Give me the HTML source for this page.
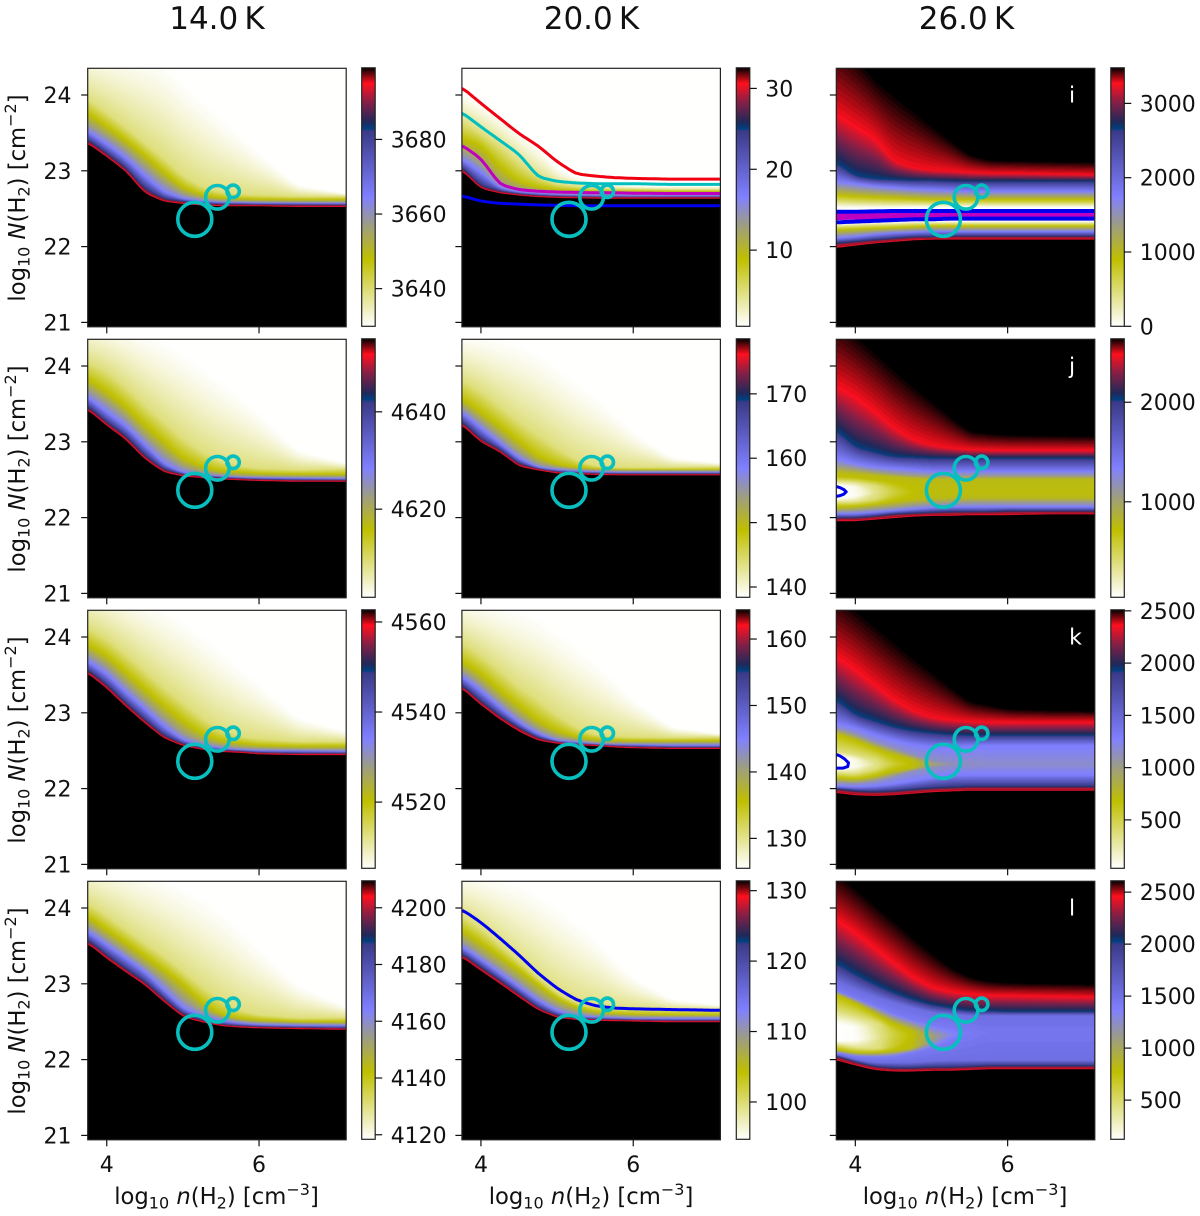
<!DOCTYPE html>
<html lang="en">
<head>
<meta charset="utf-8">
<title>Model grids by temperature</title>
<style>
html,body{margin:0;padding:0;background:#fff;}
svg{display:block;font-family:"DejaVu Sans","Liberation Sans",sans-serif;fill:#111;}
</style>
</head>
<body>
<svg id="chart" width="1200" height="1216" viewBox="0 0 1200 1216">
  <rect x="0" y="0" width="1200" height="1216" fill="#ffffff"/>
  <text x="217" y="29" font-size="31" text-anchor="middle">14.0&#8201;K</text>
  <text x="591.5" y="29" font-size="31" text-anchor="middle">20.0&#8201;K</text>
  <text x="966.5" y="29" font-size="31" text-anchor="middle">26.0&#8201;K</text>

  <text transform="translate(25,198) rotate(-90)" text-anchor="middle" font-size="22.7">log<tspan font-size="16" dy="4.5">10</tspan><tspan dy="-4.5"> </tspan><tspan font-style="italic">N</tspan>(H<tspan font-size="16" dy="4.5">2</tspan><tspan dy="-4.5">) [cm</tspan><tspan font-size="16" dy="-9">−2</tspan><tspan dy="9">]</tspan></text>
  <text transform="translate(25,469) rotate(-90)" text-anchor="middle" font-size="22.7">log<tspan font-size="16" dy="4.5">10</tspan><tspan dy="-4.5"> </tspan><tspan font-style="italic">N</tspan>(H<tspan font-size="16" dy="4.5">2</tspan><tspan dy="-4.5">) [cm</tspan><tspan font-size="16" dy="-9">−2</tspan><tspan dy="9">]</tspan></text>
  <text transform="translate(25,740) rotate(-90)" text-anchor="middle" font-size="22.7">log<tspan font-size="16" dy="4.5">10</tspan><tspan dy="-4.5"> </tspan><tspan font-style="italic">N</tspan>(H<tspan font-size="16" dy="4.5">2</tspan><tspan dy="-4.5">) [cm</tspan><tspan font-size="16" dy="-9">−2</tspan><tspan dy="9">]</tspan></text>
  <text transform="translate(25,1011) rotate(-90)" text-anchor="middle" font-size="22.7">log<tspan font-size="16" dy="4.5">10</tspan><tspan dy="-4.5"> </tspan><tspan font-style="italic">N</tspan>(H<tspan font-size="16" dy="4.5">2</tspan><tspan dy="-4.5">) [cm</tspan><tspan font-size="16" dy="-9">−2</tspan><tspan dy="9">]</tspan></text>

  <text x="216.5" y="1204" text-anchor="middle" font-size="22.7">log<tspan font-size="16" dy="4.5">10</tspan><tspan dy="-4.5"> </tspan><tspan font-style="italic">n</tspan>(H<tspan font-size="16" dy="4.5">2</tspan><tspan dy="-4.5">) [cm</tspan><tspan font-size="16" dy="-9">−3</tspan><tspan dy="9">]</tspan></text>
  <text x="591" y="1204" text-anchor="middle" font-size="22.7">log<tspan font-size="16" dy="4.5">10</tspan><tspan dy="-4.5"> </tspan><tspan font-style="italic">n</tspan>(H<tspan font-size="16" dy="4.5">2</tspan><tspan dy="-4.5">) [cm</tspan><tspan font-size="16" dy="-9">−3</tspan><tspan dy="9">]</tspan></text>
  <text x="965" y="1204" text-anchor="middle" font-size="22.7">log<tspan font-size="16" dy="4.5">10</tspan><tspan dy="-4.5"> </tspan><tspan font-style="italic">n</tspan>(H<tspan font-size="16" dy="4.5">2</tspan><tspan dy="-4.5">) [cm</tspan><tspan font-size="16" dy="-9">−3</tspan><tspan dy="9">]</tspan></text>
</svg>
<script>
/* Shared axis data */
const densityKnots=[3.75,4,4.25,4.5,4.75,5,5.25,5.5,5.75,6,6.5,7.15];
const xTickValues=[4,6];
const yTickValues=[21,22,23,24];
const markerDensity=[5.156,5.453,5.66];
const markerColumn=[22.36,22.65,22.73];
const colormapStops=[0,.13,.26,.38,.5,.62,.755,.765,.79,.87,.94,1];
const colormapColors=['#ffffff','#dfdf80','#bfbf00','#a0a078','#8080ff','#5f5fc8','#3a3a88','#004080','#20285a','#8a1f45','#ff0f1e','#000000'];

/* Row 1, 14 K */
const r1c1Range=[3629.9,3699.2];
const r1c1CbTicks=[3640,3660,3680];
const r1c1Levels=[3699.2,3682.6,3664.6,3656.2,3647.9,3638.9,3629.9];
const r1c1Isolines=[
[23.37,23.19,23.00,22.71,22.60,22.57,22.55,22.54,22.54,22.54,22.53,22.53],
[23.41,23.23,23.04,22.76,22.63,22.595,22.57,22.56,22.56,22.555,22.55,22.55],
[23.52,23.35,23.17,22.93,22.72,22.63,22.60,22.585,22.58,22.575,22.575,22.57],
[23.62,23.46,23.28,23.06,22.85,22.69,22.63,22.605,22.60,22.595,22.59,22.59],
[23.76,23.58,23.40,23.20,22.98,22.78,22.68,22.64,22.63,22.62,22.62,22.62],
[23.95,23.77,23.58,23.37,23.17,22.94,22.79,22.72,22.69,22.68,22.66,22.66],
[24.65,24.62,24.60,24.55,24.45,24.20,23.97,23.73,23.50,23.26,22.82,22.70]];

/* Row 1, 20 K */
const r1c2Range=[0.58,32.55];
const r1c2CbTicks=[10,20,30];
const r1c2Levels=[32.55,24.88,16.57,12.73,8.89,4.74,0.58];
const r1c2Isolines=[
[23.01,22.77,22.71,22.68,22.66,22.65,22.645,22.64,22.64,22.64,22.64,22.64],
[23.05,22.80,22.73,22.695,22.675,22.665,22.66,22.655,22.655,22.655,22.655,22.655],
[23.15,22.98,22.77,22.72,22.70,22.685,22.68,22.675,22.675,22.67,22.67,22.67],
[23.27,23.10,22.82,22.76,22.73,22.71,22.705,22.70,22.70,22.70,22.70,22.70],
[23.42,23.33,23.05,22.85,22.78,22.75,22.74,22.73,22.73,22.73,22.73,22.73],
[23.65,23.50,23.33,23.10,22.92,22.82,22.79,22.77,22.76,22.76,22.75,22.75],
[24.05,23.92,23.75,23.55,23.35,23.05,22.92,22.85,22.82,22.80,22.80,22.80]];
const r1c2RedContour=[24.10,23.89,23.69,23.49,23.33,23.12,22.96,22.93,22.91,22.90,22.89,22.89];
const r1c2CyanContour=[23.77,23.58,23.40,23.22,22.92,22.86,22.84,22.83,22.83,22.83,22.82,22.82];
const r1c2MagentaContour=[23.34,23.16,22.82,22.75,22.73,22.72,22.715,22.71,22.71,22.705,22.70,22.70];
const r1c2BlueContour=[22.67,22.60,22.57,22.56,22.55,22.545,22.54,22.54,22.54,22.54,22.54,22.54];

/* Row 1, 26 K */
const r1c3Range=[0,3479];
const r1c3CbTicks=[0,1000,2000,3000];
const r1c3Levels=[3479,2644,1740,905,0,0,905,1740,2644,3270,3479];
const r1c3Isolines=[
[21.99,22.02,22.05,22.07,22.09,22.10,22.10,22.10,22.10,22.10,22.10,22.10],
[22.05,22.07,22.09,22.11,22.13,22.13,22.14,22.14,22.14,22.14,22.14,22.14],
[22.11,22.13,22.16,22.18,22.19,22.20,22.20,22.20,22.20,22.20,22.20,22.20],
[22.22,22.23,22.24,22.25,22.26,22.27,22.27,22.27,22.27,22.27,22.27,22.27],
[22.31,22.32,22.33,22.33,22.34,22.34,22.34,22.34,22.34,22.34,22.34,22.34],
[22.50,22.50,22.50,22.50,22.51,22.51,22.51,22.51,22.51,22.51,22.51,22.51],
[22.68,22.66,22.65,22.64,22.63,22.62,22.62,22.62,22.62,22.62,22.62,22.62],
[22.86,22.83,22.80,22.78,22.76,22.75,22.74,22.73,22.73,22.73,22.73,22.73],
[23.10,22.93,22.89,22.88,22.87,22.87,22.86,22.86,22.86,22.86,22.86,22.86],
[23.76,23.60,23.45,23.14,23.05,23.01,23.00,22.98,22.97,22.97,22.96,22.95],
[24.80,24.55,24.25,24.05,23.84,23.63,23.42,23.22,23.15,23.14,23.13,23.12]];
const r1c3BlueLower=[22.32,22.33,22.34,22.35,22.36,22.36,22.37,22.37,22.37,22.37,22.37,22.37];
const r1c3MagentaLower=[22.38,22.385,22.39,22.395,22.40,22.40,22.405,22.41,22.41,22.41,22.41,22.41];
const r1c3MagentaUpper=[22.42,22.42,22.42,22.42,22.425,22.43,22.43,22.43,22.43,22.43,22.43,22.43];
const r1c3BlueUpper=[22.46,22.46,22.465,22.47,22.47,22.47,22.47,22.47,22.47,22.47,22.47,22.47];

/* Row 2, 14 K */
const r2c1Range=[4601.9,4655];
const r2c1CbTicks=[4620,4640];
const r2c1Levels=[4655,4642.3,4628.5,4622.1,4615.7,4608.8,4601.9];
const r2c1Isolines=[
[23.43,23.22,23.035,22.78,22.605,22.55,22.53,22.51,22.50,22.49,22.48,22.48],
[23.47,23.26,23.08,22.82,22.635,22.57,22.55,22.53,22.515,22.505,22.495,22.495],
[23.59,23.39,23.21,22.96,22.71,22.59,22.56,22.54,22.53,22.525,22.52,22.51],
[23.70,23.53,23.33,23.07,22.85,22.67,22.60,22.57,22.55,22.545,22.54,22.54],
[23.83,23.66,23.46,23.22,23.00,22.78,22.67,22.61,22.60,22.58,22.57,22.57],
[24.06,23.93,23.73,23.49,23.27,23.05,22.87,22.74,22.68,22.65,22.63,22.64],
[24.65,24.62,24.55,24.45,24.35,24.20,24.02,23.83,23.63,23.40,22.90,22.72]];

/* Row 2, 20 K */
const r2c2Range=[138.4,178.55];
const r2c2CbTicks=[140,150,160,170];
const r2c2Levels=[178.55,168.9,158.5,153.7,148.8,143.6,138.4];
const r2c2Isolines=[
[23.23,23.00,22.87,22.68,22.63,22.59,22.58,22.57,22.565,22.565,22.565,22.565],
[23.27,23.04,22.90,22.71,22.645,22.605,22.595,22.585,22.58,22.58,22.58,22.58],
[23.39,23.18,22.98,22.78,22.66,22.63,22.61,22.60,22.595,22.595,22.595,22.595],
[23.47,23.27,23.07,22.86,22.71,22.66,22.64,22.63,22.62,22.62,22.62,22.62],
[23.57,23.39,23.20,23.00,22.80,22.70,22.66,22.64,22.635,22.63,22.63,22.63],
[23.82,23.67,23.47,23.27,23.10,22.92,22.76,22.68,22.66,22.66,22.66,22.67],
[24.45,24.42,24.38,24.32,24.20,24.02,23.82,23.63,23.40,23.15,22.80,22.72]];

/* Row 2, 26 K */
const r2c3Range=[41,2637];
const r2c3CbTicks=[1000,2000];
const r2c3Levels=[2637,2014,1339,1027,768,716,378,41,41,378,716,768,1027,1339,2014,2481,2637];
const r2c3ValleyFloor=[41,93,353,560,716,742,742,742,742,742,742,742];
const r2c3Isolines=[
[21.96,21.96,21.98,22.00,22.02,22.03,22.03,22.04,22.04,22.04,22.05,22.05],
[22.00,22.00,22.02,22.05,22.06,22.07,22.08,22.08,22.08,22.09,22.09,22.09],
[22.05,22.05,22.07,22.09,22.11,22.13,22.14,22.14,22.14,22.14,22.14,22.14],
[22.09,22.10,22.12,22.14,22.17,22.19,22.20,22.21,22.21,22.21,22.21,22.21],
[22.13,22.14,22.17,22.20,22.23,22.25,22.26,22.26,22.26,22.26,22.26,22.26],
[22.15,22.15,22.17,22.21,22.26,22.33,22.34,22.34,22.34,22.34,22.34,22.34],
[22.20,22.20,22.25,22.31,22.34,22.34,22.34,22.34,22.34,22.34,22.34,22.34],
[22.26,22.28,22.33,22.34,22.34,22.34,22.34,22.34,22.34,22.34,22.34,22.34],
[22.42,22.40,22.35,22.34,22.34,22.34,22.34,22.34,22.34,22.34,22.34,22.34],
[22.48,22.47,22.42,22.37,22.34,22.34,22.34,22.34,22.34,22.34,22.34,22.34],
[22.54,22.53,22.50,22.47,22.42,22.35,22.34,22.34,22.34,22.34,22.34,22.34],
[22.60,22.58,22.56,22.54,22.52,22.51,22.51,22.51,22.51,22.51,22.51,22.51],
[22.67,22.64,22.60,22.57,22.55,22.54,22.54,22.54,22.54,22.54,22.54,22.54],
[22.78,22.71,22.67,22.65,22.63,22.61,22.61,22.61,22.61,22.61,22.61,22.61],
[23.15,22.93,22.86,22.80,22.79,22.78,22.78,22.78,22.78,22.78,22.78,22.78],
[23.75,23.61,23.42,23.20,23.04,22.96,22.92,22.90,22.89,22.89,22.89,22.89],
[24.66,24.45,24.23,24.00,23.78,23.57,23.35,23.15,23.12,23.10,23.09,23.08]];
const r2c3LoopDensity=[3.75,3.80,3.85,3.88,3.85,3.80,3.75];
const r2c3LoopColumn=[22.41,22.395,22.37,22.34,22.31,22.29,22.28];

/* Row 3, 14 K */
const r3c1Range=[4505.3,4562.7];
const r3c1CbTicks=[4520,4540,4560];
const r3c1Levels=[4562.7,4548.9,4534,4527.1,4520.2,4512.8,4505.3];
const r3c1Isolines=[
[23.53,23.33,23.09,22.87,22.67,22.57,22.52,22.49,22.48,22.46,22.45,22.45],
[23.57,23.37,23.13,22.91,22.70,22.59,22.535,22.505,22.495,22.475,22.465,22.465],
[23.68,23.51,23.27,23.05,22.82,22.64,22.57,22.53,22.51,22.50,22.50,22.49],
[23.79,23.62,23.39,23.16,22.94,22.73,22.62,22.57,22.54,22.53,22.52,22.52],
[23.90,23.75,23.53,23.31,23.09,22.89,22.72,22.63,22.60,22.57,22.56,22.56],
[24.13,23.98,23.78,23.56,23.34,23.14,22.94,22.77,22.69,22.66,22.62,22.62],
[24.75,24.70,24.62,24.52,24.40,24.25,24.05,23.85,23.62,23.40,22.95,22.76]];

/* Row 3, 20 K */
const r3c2Range=[125.5,164.4];
const r3c2CbTicks=[130,140,150,160];
const r3c2Levels=[164.4,155.1,145,140.3,135.6,130.6,125.5];
const r3c2Isolines=[
[23.33,23.11,22.92,22.76,22.64,22.60,22.58,22.57,22.55,22.54,22.53,22.53],
[23.37,23.15,22.96,22.80,22.67,22.615,22.59,22.58,22.565,22.555,22.545,22.545],
[23.48,23.29,23.07,22.87,22.72,22.63,22.61,22.59,22.58,22.58,22.57,22.57],
[23.57,23.38,23.16,22.96,22.79,22.68,22.64,22.61,22.60,22.60,22.60,22.60],
[23.68,23.51,23.29,23.09,22.89,22.76,22.68,22.65,22.64,22.63,22.63,22.63],
[23.93,23.76,23.56,23.34,23.17,22.97,22.81,22.71,22.69,22.68,22.67,22.68],
[24.55,24.50,24.45,24.38,24.28,24.10,23.90,23.70,23.45,23.20,22.82,22.72]];

/* Row 3, 26 K */
const r3c3Range=[37,2510];
const r3c3CbTicks=[500,1000,1500,2000,2500];
const r3c3Levels=[2510,1916,1274,1125,705,358,37,37,358,705,1125,1274,1916,2362,2510];
const r3c3ValleyFloor=[37,111,334,556,705,927,1076,1125,1150,1150,1150,1150];
const r3c3Isolines=[
[21.95,21.92,21.91,21.92,21.94,21.96,21.97,21.98,21.98,21.98,21.98,21.98],
[22.00,21.97,21.96,21.97,21.99,22.01,22.02,22.03,22.03,22.03,22.03,22.03],
[22.03,22.02,22.03,22.06,22.10,22.14,22.18,22.18,22.18,22.18,22.18,22.18],
[22.07,22.06,22.09,22.15,22.23,22.27,22.31,22.32,22.32,22.32,22.32,22.32],
[22.14,22.12,22.16,22.23,22.27,22.32,22.32,22.32,22.32,22.32,22.32,22.32],
[22.21,22.19,22.26,22.32,22.32,22.32,22.32,22.32,22.32,22.32,22.32,22.32],
[22.28,22.28,22.32,22.32,22.32,22.32,22.32,22.32,22.32,22.32,22.32,22.32],
[22.42,22.38,22.33,22.32,22.32,22.32,22.32,22.32,22.32,22.32,22.32,22.32],
[22.49,22.45,22.38,22.33,22.32,22.32,22.32,22.32,22.32,22.32,22.32,22.32],
[22.73,22.64,22.54,22.45,22.38,22.32,22.32,22.32,22.32,22.32,22.32,22.32],
[22.80,22.73,22.62,22.54,22.45,22.38,22.33,22.32,22.32,22.32,22.32,22.32],
[22.86,22.80,22.71,22.64,22.58,22.55,22.55,22.56,22.57,22.57,22.57,22.57],
[23.17,22.97,22.89,22.81,22.76,22.73,22.71,22.70,22.70,22.70,22.70,22.70],
[23.76,23.59,23.39,23.19,23.04,22.95,22.91,22.89,22.88,22.88,22.88,22.88],
[24.60,24.40,24.19,23.98,23.77,23.57,23.36,23.16,23.11,23.06,23.04,23.03]];
const r3c3LoopDensity=[3.75,3.80,3.86,3.91,3.90,3.84,3.75];
const r3c3LoopColumn=[22.45,22.43,22.39,22.34,22.29,22.27,22.27];

/* Row 4, 14 K */
const r4c1Range=[4118.4,4209.5];
const r4c1CbTicks=[4120,4140,4160,4180,4200];
const r4c1Levels=[4209.5,4187.6,4164,4153,4142.1,4130.2,4118.4];
const r4c1Isolines=[
[23.54,23.34,23.16,22.99,22.77,22.57,22.50,22.45,22.43,22.42,22.41,22.40],
[23.58,23.38,23.20,23.03,22.81,22.60,22.52,22.465,22.445,22.435,22.425,22.415],
[23.69,23.51,23.34,23.16,22.92,22.68,22.57,22.51,22.48,22.46,22.45,22.45],
[23.78,23.60,23.42,23.24,23.05,22.81,22.64,22.56,22.51,22.49,22.48,22.47],
[23.89,23.71,23.54,23.36,23.18,22.99,22.75,22.59,22.54,22.52,22.50,22.50],
[24.07,23.90,23.72,23.54,23.37,23.17,22.97,22.79,22.65,22.59,22.55,22.55],
[24.70,24.65,24.60,24.52,24.42,24.30,24.17,24.00,23.75,23.50,23.00,22.70]];

/* Row 4, 20 K */
const r4c2Range=[94.7,131.4];
const r4c2CbTicks=[100,110,120,130];
const r4c2Levels=[131.4,122.6,113,108.6,104.2,99.5,94.7];
const r4c2Isolines=[
[23.36,23.18,23.01,22.83,22.66,22.56,22.53,22.52,22.515,22.51,22.50,22.50],
[23.40,23.22,23.05,22.87,22.69,22.58,22.545,22.535,22.53,22.525,22.515,22.515],
[23.49,23.32,23.14,22.96,22.78,22.64,22.57,22.56,22.55,22.54,22.54,22.54],
[23.58,23.40,23.23,23.05,22.86,22.71,22.63,22.59,22.58,22.57,22.57,22.57],
[23.71,23.54,23.36,23.18,22.99,22.81,22.69,22.63,22.61,22.60,22.59,22.59],
[23.90,23.73,23.52,23.30,23.08,22.88,22.75,22.69,22.67,22.67,22.66,22.66],
[24.50,24.48,24.42,24.35,24.22,24.05,23.85,23.63,23.35,23.10,22.80,22.72]];
const r4c2BlueContour=[23.98,23.81,23.60,23.38,23.14,22.94,22.79,22.71,22.68,22.67,22.66,22.65];

/* Row 4, 26 K */
const r4c3Range=[123,2609];
const r4c3CbTicks=[500,1000,1500,2000,2500];
const r4c3Levels=[2609,2012,1515,1416,794,446,123,123,446,794,1416,1515,2012,2460,2609];
const r4c3ValleyFloor=[123,148,371,620,794,1068,1316,1416,1441,1441,1441,1441];
const r4c3Isolines=[
[22.00,21.93,21.87,21.85,21.85,21.86,21.86,21.87,21.88,21.88,21.88,21.88],
[22.05,21.97,21.91,21.89,21.89,21.90,21.90,21.91,21.92,21.92,21.92,21.92],
[22.07,22.00,21.96,21.96,21.96,21.98,21.99,21.99,21.99,21.99,21.99,21.99],
[22.09,22.04,22.03,22.04,22.09,22.15,22.24,22.35,22.36,22.36,22.36,22.36],
[22.13,22.09,22.09,22.11,22.15,22.24,22.33,22.35,22.36,22.36,22.36,22.36],
[22.20,22.15,22.14,22.18,22.33,22.32,22.33,22.35,22.36,22.36,22.36,22.36],
[22.25,22.26,22.27,22.34,22.33,22.32,22.33,22.35,22.36,22.36,22.36,22.36],
[22.46,22.42,22.40,22.34,22.33,22.32,22.33,22.35,22.36,22.36,22.36,22.36],
[22.64,22.57,22.50,22.37,22.33,22.32,22.33,22.35,22.36,22.36,22.36,22.36],
[22.86,22.75,22.61,22.48,22.38,22.33,22.33,22.35,22.36,22.36,22.36,22.36],
[22.92,22.81,22.72,22.61,22.53,22.46,22.42,22.36,22.36,22.36,22.36,22.36],
[23.03,22.92,22.83,22.75,22.68,22.62,22.60,22.58,22.58,22.58,22.58,22.58],
[23.27,23.12,22.99,22.88,22.79,22.72,22.68,22.64,22.64,22.63,22.63,22.63],
[23.86,23.69,23.49,23.29,23.10,22.96,22.90,22.87,22.85,22.85,22.84,22.83],
[24.50,24.29,24.07,23.86,23.64,23.43,23.23,23.10,23.04,23.02,23.01,23.00]];

const panelLetters=['','','i','','','j','','','k','','','l'];
const panelRanges=[r1c1Range,r1c2Range,r1c3Range,r2c1Range,r2c2Range,r2c3Range,r3c1Range,r3c2Range,r3c3Range,r4c1Range,r4c2Range,r4c3Range];
const panelCbTicks=[r1c1CbTicks,r1c2CbTicks,r1c3CbTicks,r2c1CbTicks,r2c2CbTicks,r2c3CbTicks,r3c1CbTicks,r3c2CbTicks,r3c3CbTicks,r4c1CbTicks,r4c2CbTicks,r4c3CbTicks];
const panelLevels=[r1c1Levels,r1c2Levels,r1c3Levels,r2c1Levels,r2c2Levels,r2c3Levels,r3c1Levels,r3c2Levels,r3c3Levels,r4c1Levels,r4c2Levels,r4c3Levels];
const panelIsolines=[r1c1Isolines,r1c2Isolines,r1c3Isolines,r2c1Isolines,r2c2Isolines,r2c3Isolines,r3c1Isolines,r3c2Isolines,r3c3Isolines,r4c1Isolines,r4c2Isolines,r4c3Isolines];
const panelFloors=[null,null,null,null,null,r2c3ValleyFloor,null,null,r3c3ValleyFloor,null,null,r4c3ValleyFloor];

const RED='#f00010',THIN='#d8102c',BLUE='#0000f0',MAG='#c000c0',CYAN='#00bfbf';
const panelContours=[
[[THIN,1.2,r1c1Isolines[0]]],
[[THIN,1.2,r1c2Isolines[0]],[BLUE,3,r1c2BlueContour],[MAG,3,r1c2MagentaContour],[CYAN,3,r1c2CyanContour],[RED,3,r1c2RedContour]],
[[THIN,1.2,r1c3Isolines[0]],[MAG,4.5,r1c3MagentaLower],[MAG,4.5,r1c3MagentaUpper],[BLUE,4,r1c3BlueLower],[BLUE,4,r1c3BlueUpper]],
[[THIN,1.2,r2c1Isolines[0]]],
[[THIN,1.2,r2c2Isolines[0]]],
[[THIN,1.2,r2c3Isolines[0]]],
[[THIN,1.2,r3c1Isolines[0]]],
[[THIN,1.2,r3c2Isolines[0]]],
[[THIN,1.2,r3c3Isolines[0]]],
[[THIN,1.2,r4c1Isolines[0]]],
[[THIN,1.2,r4c2Isolines[0]],[BLUE,3,r4c2BlueContour]],
[[THIN,1.2,r4c3Isolines[0]]]
];
const panelLoops=[null,null,null,null,null,[r2c3LoopDensity,r2c3LoopColumn],null,null,[r3c3LoopDensity,r3c3LoopColumn],null,null,null];

/* Layout and axis functions */
const colLeft=[87.7,461.9,836.3];
const cbLeft=[361.7,736.3,1110.8];
const rowTop=[68.3,339.3,610.3,881.3];
const PW=258.5,PH=258.5,PXU=76.15,PYU=75.8;
function xScale(col,v){return colLeft[col]+(v-3.75)*PXU;}
function xInvert(col,px){return 3.75+(px-colLeft[col])/PXU;}
function yScale(row,v){return rowTop[row]+26.7+(24-v)*PYU;}
function cbScale(row,range,v){return rowTop[row]-.5+(range[1]-v)/(range[1]-range[0])*PH;}
function hex(c){return [parseInt(c.slice(1,3),16),parseInt(c.slice(3,5),16),parseInt(c.slice(5,7),16)];}
function cmap(f){
  f=Math.max(0,Math.min(1,f));
  let i=0;
  while(i<colormapStops.length-2&&f>colormapStops[i+1])i++;
  const t=(f-colormapStops[i])/(colormapStops[i+1]-colormapStops[i]);
  const a=hex(colormapColors[i]),b=hex(colormapColors[i+1]);
  return 'rgb('+Math.round(a[0]+(b[0]-a[0])*t)+','+Math.round(a[1]+(b[1]-a[1])*t)+','+Math.round(a[2]+(b[2]-a[2])*t)+')';
}
function fadeColor(c){
  return cmap(c<.13?.13*Math.pow(c/.13,1.35):c);
}
function interp(arr,x){
  const k=densityKnots;
  if(x<=k[0])return arr[0];
  for(let i=0;i<k.length-1;i++){
    if(x<=k[i+1]){return arr[i]+(arr[i+1]-arr[i])*(x-k[i])/(k[i+1]-k[i]);}
  }
  return arr[arr.length-1];
}
function smooth(arr,col,px){
  return (interp(arr,xInvert(col,px-5))+2*interp(arr,xInvert(col,px))+interp(arr,xInvert(col,px+5)))/4;
}
/* Position of fill level c on one side of the valley, at sample j */
function sidePosition(sideF,sideCurves,c,j,floor){
  for(let i=0;i<sideF.length-1;i++){
    const hi=sideF[i],eff=Math.max(sideF[i+1],floor);
    if(c<=hi&&c>=eff){
      const t=hi>eff?(hi-c)/(hi-eff):1;
      return sideCurves[i][j]+(sideCurves[i+1][j]-sideCurves[i][j])*t;
    }
  }
  return sideCurves[sideCurves.length-1][j];
}
const fillSteps=[];
for(let c=.995;c>.9;c-=.005)fillSteps.push(c);
for(let c=.9;c>.3;c-=.01)fillSteps.push(c);
for(let c=.3;c>.001;c-=.004)fillSteps.push(c);

const svg=document.getElementById('chart');
const NS=svg.namespaceURI;
function make(tag,parent,attrs){
  const el=document.createElementNS(NS,tag);
  for(const k in attrs)el.setAttribute(k,attrs[k]);
  parent.appendChild(el);
  return el;
}
const defs=make('defs',svg,{});
const grad=make('linearGradient',defs,{id:'cbGradient',x1:0,y1:1,x2:0,y2:0});
colormapStops.forEach(function(s,i){
  make('stop',grad,{offset:s,'stop-color':colormapColors[i]});
});
const soft=make('filter',defs,{id:'soft','color-interpolation-filters':'sRGB'});
make('feGaussianBlur',soft,{stdDeviation:0.55});

function drawPanel(p){
  const row=Math.floor(p/3),col=p%3;
  const left=colLeft[col],top=rowTop[row];
  const clip=make('clipPath',defs,{id:'clip'+p});
  make('rect',clip,{x:left,y:top,width:PW,height:PH});
  const panel=make('g',svg,{});
  
  

  const clipped=make('g',panel,{'clip-path':'url(#clip'+p+')'});
  
  
  const heat=make('g',clipped,{filter:'url(#soft)','shape-rendering':'crispEdges'});
  
  
  const range=panelRanges[p],levels=panelLevels[p],iso=panelIsolines[p];
  const fr=function(v){return (v-range[0])/(range[1]-range[0]);};
  const base=make('rect',heat,{x:left-4,y:top-4,width:PW+8,height:PH+8,fill:'#000000'});
  
  

  const pxs=[];
  for(let px=left-4;px<left+PW+4;px+=4)pxs.push(px);
  pxs.push(left+PW+4);
  const sampled=iso.map(function(curve){return pxs.map(function(px){return smooth(curve,col,px);});});
  const floorArr=panelFloors[p];
  const floors=pxs.map(function(px){return floorArr?fr(smooth(floorArr,col,px)):0;});

  const levelF=levels.map(fr);
  let mid=0;
  levelF.forEach(function(f,i){if(f<levelF[mid]-1e-9)mid=i;});
  const lowerF=levelF.slice(0,mid+1),lowerCurves=sampled.slice(0,mid+1);
  const upperF=levelF.slice(mid+1).reverse(),upperCurves=sampled.slice(mid+1).reverse();
  const hasUpper=upperF.length>0;

  fillSteps.forEach(function(c){
    let lowerPts='',upperPts='';
    for(let j=0;j<pxs.length;j++){
      let lo,up;
      if(c<floors[j]){
        lo=up=sampled[mid][j];
      }else{
        lo=sidePosition(lowerF,lowerCurves,c,j,floors[j]);
        up=hasUpper?sidePosition(upperF,upperCurves,c,j,floors[j]):0;
      }
      lowerPts+=pxs[j].toFixed(1)+','+yScale(row,lo).toFixed(1)+' ';
      if(hasUpper)upperPts=pxs[j].toFixed(1)+','+yScale(row,up).toFixed(1)+' '+upperPts;
    }
    const closing=hasUpper?upperPts:((left+PW+4).toFixed(1)+','+(top-200)+' '+(left-4).toFixed(1)+','+(top-200));
    const band=make('polygon',heat,{points:lowerPts+closing,fill:fadeColor(c)});
    
    
  });

  const lines=make('g',panel,{'clip-path':'url(#clip'+p+')',fill:'none','stroke-linejoin':'round'});
  
  
  panelContours[p].forEach(function(c){
    let pts='';
    for(let px=left;px<=left+PW+.01;px+=2){
      pts+=px.toFixed(1)+','+yScale(row,smooth(c[2],col,px)).toFixed(1)+' ';
    }
    const line=make('polyline',lines,{points:pts,stroke:c[0],'stroke-width':c[1]});
    
    
  });
  if(panelLoops[p]){
    const lx=panelLoops[p][0],ly=panelLoops[p][1];
    const loopPts=lx.map(function(v,i){return xScale(col,v).toFixed(1)+','+yScale(row,ly[i]).toFixed(1);}).join(' ');
    const loop=make('polyline',lines,{points:loopPts,stroke:BLUE,'stroke-width':3});
    
    
  }

  const radii=[17,11.8,6.2];
  markerDensity.forEach(function(v,i){
    const m=make('circle',panel,{cx:xScale(col,v).toFixed(1),cy:yScale(row,markerColumn[i]).toFixed(1),r:radii[i],fill:'none',stroke:'#08bfc0','stroke-width':3.6});
    
    
  });

  const frame=make('rect',panel,{x:left,y:top,width:PW,height:PH,fill:'none',stroke:'#222','stroke-width':1.2});
  
  

  yTickValues.forEach(function(v){
    const y=yScale(row,v);
    const t=make('line',panel,{x1:left-6.5,x2:left,y1:y,y2:y,stroke:'#111','stroke-width':1.2});
    
    
    if(col===0){
      const l=make('text',panel,{x:71.5,y:y+8,'text-anchor':'end','font-size':22});
      l.textContent=String(v);
      
      
    }
  });
  xTickValues.forEach(function(v){
    const x=xScale(col,v);
    const t=make('line',panel,{x1:x,x2:x,y1:top+PH,y2:top+PH+6.5,stroke:'#111','stroke-width':1.2});
    
    
    if(row===3){
      const l=make('text',panel,{x:x,y:1172,'text-anchor':'middle','font-size':22});
      l.textContent=String(v);
      
      
    }
  });

  if(panelLetters[p]){
    const tag=make('text',panel,{x:panelLetters[p]==='k'?1075.5:1072,y:top+34,'text-anchor':'middle','font-size':22,fill:'#ffffff'});
    tag.textContent=panelLetters[p];
    
    
  }

  const cbx=cbLeft[col];
  const cb=make('g',svg,{});
  
  
  const bar=make('rect',cb,{x:cbx,y:top-.5,width:13.5,height:PH,fill:'url(#cbGradient)',stroke:'#222','stroke-width':1.2});
  
  
  panelCbTicks[p].forEach(function(v){
    const y=cbScale(row,range,v);
    const t=make('line',cb,{x1:cbx+13.5,x2:cbx+20.5,y1:y,y2:y,stroke:'#111','stroke-width':1.2});
    
    
    const l=make('text',cb,{x:cbx+29,y:y+8,'font-size':22});
    l.textContent=String(v);
    
    
  });
}
for(let p=0;p<12;p++)drawPanel(p);
</script>
</body>
</html>
